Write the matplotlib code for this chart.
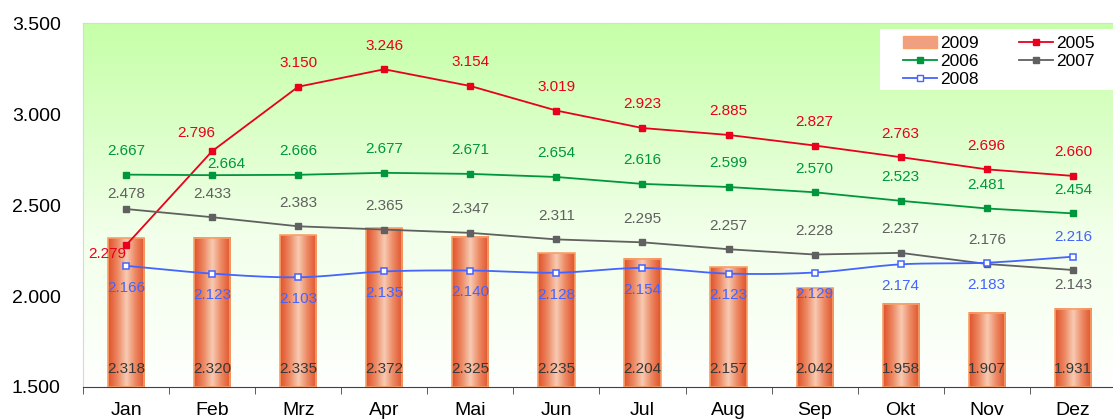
import numpy as np
import matplotlib.pyplot as plt
from matplotlib.colors import LinearSegmentedColormap
from matplotlib.patches import Patch
from matplotlib.lines import Line2D

plt.rcParams['font.family'] = ['Liberation Sans', 'DejaVu Sans']

months = ['Jan', 'Feb', 'Mrz', 'Apr', 'Mai', 'Jun', 'Jul', 'Aug', 'Sep', 'Okt', 'Nov', 'Dez']
y2009 = [2.318, 2.320, 2.335, 2.372, 2.325, 2.235, 2.204, 2.157, 2.042, 1.958, 1.907, 1.931]
y2005 = [2.279, 2.796, 3.150, 3.246, 3.154, 3.019, 2.923, 2.885, 2.827, 2.763, 2.696, 2.660]
y2006 = [2.667, 2.664, 2.666, 2.677, 2.671, 2.654, 2.616, 2.599, 2.570, 2.523, 2.481, 2.454]
y2007 = [2.478, 2.433, 2.383, 2.365, 2.347, 2.311, 2.295, 2.257, 2.228, 2.237, 2.176, 2.143]
y2008 = [2.166, 2.123, 2.103, 2.135, 2.140, 2.128, 2.154, 2.123, 2.129, 2.174, 2.183, 2.216]


def fmt(v):
    return f'{v:.3f}'


def smooth(xs, ys, n=20):
    # Catmull-Rom curve through the points (like a "smoothed line" in spreadsheets)
    xs = np.asarray(xs, float)
    ys = np.asarray(ys, float)
    px = np.concatenate([[2 * xs[0] - xs[1]], xs, [2 * xs[-1] - xs[-2]]])
    py = np.concatenate([[2 * ys[0] - ys[1]], ys, [2 * ys[-1] - ys[-2]]])
    outx, outy = [], []
    t = np.linspace(0, 1, n, endpoint=False)
    for i in range(1, len(px) - 2):
        for p, out in ((px, outx), (py, outy)):
            p0, p1, p2, p3 = p[i - 1], p[i], p[i + 1], p[i + 2]
            out.extend(0.5 * (2 * p1 + (-p0 + p2) * t + (2 * p0 - 5 * p1 + 4 * p2 - p3) * t ** 2
                              + (-p0 + 3 * p1 - 3 * p2 + p3) * t ** 3))
    outx.append(xs[-1])
    outy.append(ys[-1])
    return outx, outy


fig = plt.figure(figsize=(11.13, 4.19), dpi=100)
ax = fig.add_axes([0.0746, 0.0764, 0.928, 0.8686])
ymin, ymax = 1.5, 3.5
x = np.arange(len(months))
ax.set_xlim(-0.5, 11.5)
ax.set_ylim(ymin, ymax)

# green-to-white background
bg = LinearSegmentedColormap.from_list('bg', ['#FFFFFF', '#F2FFEA', '#C6FFA8'])
grad = np.linspace(0, 1, 256).reshape(-1, 1) ** 0.8
ax.imshow(grad, cmap=bg, aspect='auto', origin='lower',
          extent=[-0.5, 11.5, ymin, ymax], zorder=0)

# cylinder-style bars
cyl = LinearSegmentedColormap.from_list('cyl', ['#E0522A', '#EC8660', '#F8CBB3', '#EC8660', '#E0522A'])
bw = 0.42
hgrad = np.linspace(0, 1, 128).reshape(1, -1)
for xi, v in zip(x, y2009):
    ax.imshow(hgrad, cmap=cyl, aspect='auto',
              extent=[xi - bw / 2, xi + bw / 2, ymin, v], zorder=1)
    ax.add_patch(plt.Rectangle((xi - bw / 2, ymin), bw, v - ymin, fill=False,
                               edgecolor='#F8A068', lw=1.2, zorder=2))
    ax.text(xi, 1.60, fmt(v), ha='center', va='center', fontsize=11, color='#383838', zorder=6)

c05, c06, c07, c08 = '#E8001C', '#00963C', '#606060', '#4463FF'
ax.plot(x, y2005, color=c05, lw=1.3, marker='s', ms=4.5, zorder=4)
ax.plot(x, y2006, color=c06, lw=1.3, marker='s', ms=4.5, zorder=4)
ax.plot(x, y2007, color=c07, lw=1.3, marker='s', ms=4.5, zorder=4)
sx, sy = smooth(x, y2008)
ax.plot(sx, sy, color=c08, lw=1.3, zorder=4)
ax.plot(x, y2008, ls='none', color=c08, marker='s', ms=4.5, mfc='white', mew=1.1, zorder=4)

fs = 11
off = 0.13
# (dx, dy) tweaks for labels that sit off the default spot
tweak05 = {0: (-0.22, -0.05), 1: (-0.18, 0.1)}
tweak06 = {1: (0.17, 0.06)}
tweak07 = {0: (0, 0.085), 11: (0, -0.08)}
for i, v in enumerate(y2005):
    dx, dy = tweak05.get(i, (0, off))
    ax.text(i + dx, v + dy, fmt(v), ha='center', va='center', fontsize=fs, color=c05, zorder=6)
for i, v in enumerate(y2006):
    dx, dy = tweak06.get(i, (0, off))
    ax.text(i + dx, v + dy, fmt(v), ha='center', va='center', fontsize=fs, color=c06, zorder=6)
for i, v in enumerate(y2007):
    dx, dy = tweak07.get(i, (0, off))
    ax.text(i + dx, v + dy, fmt(v), ha='center', va='center', fontsize=fs, color=c07, zorder=6)
for i, v in enumerate(y2008):
    dy = 0.11 if i == 11 else -0.12
    ax.text(i, v + dy, fmt(v), ha='center', va='center', fontsize=fs, color=c08, zorder=6)

ax.set_yticks([1.5, 2.0, 2.5, 3.0, 3.5])
ax.yaxis.set_major_formatter(plt.FuncFormatter(lambda v, pos: f'{v:.3f}'))
ax.tick_params(axis='y', length=0, labelsize=14, pad=16)
ax.set_xticks(x)
ax.set_xticklabels(months, fontsize=14)
ax.tick_params(axis='x', length=0, pad=11)
ax.set_xticks(np.arange(-0.5, 12, 1), minor=True)
ax.tick_params(axis='x', which='minor', length=5, color='#404040', direction='out')

ax.spines['right'].set_visible(False)
ax.spines['left'].set_color('#D8D8D8')
ax.spines['top'].set_color('#D8D8D8')
ax.spines['bottom'].set_color('#404040')

# white legend panel, then a frameless legend on top of it
ax.add_patch(plt.Rectangle((0.7716, 0.816), 0.25, 0.168, transform=ax.transAxes,
                           facecolor='white', edgecolor='none', zorder=9, clip_on=False))
handles = [
    Patch(facecolor='#F0A080', edgecolor='#F8A068', label='2009'),
    Line2D([], [], color=c06, marker='s', ms=4.5, lw=1.3, label='2006'),
    Line2D([], [], color=c08, marker='s', ms=4.5, mfc='white', lw=1.3, label='2008'),
    Line2D([], [], color=c05, marker='s', ms=4.5, lw=1.3, label='2005'),
    Line2D([], [], color=c07, marker='s', ms=4.5, lw=1.3, label='2007'),
]
leg = ax.legend(handles=handles, ncol=2, loc='upper left', bbox_to_anchor=(0.7938, 0.964),
                borderaxespad=0, borderpad=0, fontsize=12.5, frameon=False,
                labelspacing=0.15, handlelength=1.95, handletextpad=0.2, columnspacing=2.3)
leg.set_zorder(10)

fig.savefig('out.png', dpi=100)
